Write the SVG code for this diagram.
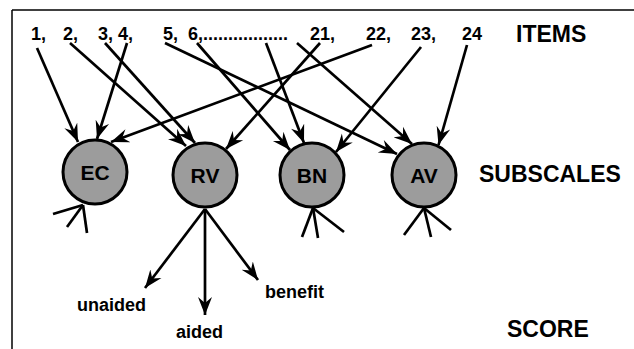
<svg xmlns="http://www.w3.org/2000/svg" width="634" height="349" viewBox="0 0 634 349">
<style>
  text { font-family: "Liberation Sans", Arial, sans-serif; font-weight: bold; fill: #000; }
  .num { font-size: 18px; }
  .cap { font-size: 23px; }
  .node circle { fill: #9c9c9c; stroke: #000; stroke-width: 3; }
  .node text { font-size: 21px; text-anchor: middle; }
  .lbl { font-size: 18px; }
  .conn line { stroke: #000; stroke-width: 2.7; fill: none; }
  .arr { marker-end: url(#ah); }
</style>
<defs>
  <marker id="ah" markerUnits="userSpaceOnUse" markerWidth="20" markerHeight="16" refX="18" refY="7" orient="auto" viewBox="0 0 20 14">
    <path d="M0,0 L18,7 L0,14 L6,7 z" fill="#000"/>
  </marker>
</defs>
<rect x="0" y="0" width="634" height="349" fill="#fff"/>
<g id="frame" stroke="#000" stroke-width="1.5" fill="none">
  <line x1="12" y1="10" x2="12" y2="349"/>
  <line x1="12" y1="10" x2="634" y2="10"/>
</g>
<g id="items">
  <text class="num" x="31" y="40">1,</text>
  <text class="num" x="63" y="40">2,</text>
  <text class="num" x="98" y="40">3, 4,</text>
  <text class="num" x="163" y="40">5,</text>
  <text class="num" x="188" y="40">6,.................</text>
  <text class="num" x="310" y="40">21,</text>
  <text class="num" x="366" y="40">22,</text>
  <text class="num" x="411" y="40">23,</text>
  <text class="num" x="462" y="40">24</text>
  <text class="cap" x="516" y="42">ITEMS</text>
</g>
<g id="connectors" class="conn">
  <line class="arr" x1="37" y1="48" x2="78" y2="142"/>
  <line class="arr" x1="70" y1="43" x2="186" y2="146"/>
  <line class="arr" x1="105" y1="43" x2="195" y2="143"/>
  <line class="arr" x1="127" y1="43" x2="97" y2="139"/>
  <line class="arr" x1="165" y1="43" x2="397" y2="154"/>
  <line class="arr" x1="197" y1="43" x2="290" y2="150"/>
  <line class="arr" x1="266" y1="43" x2="304" y2="143"/>
  <line class="arr" x1="297" y1="43" x2="412" y2="144"/>
  <line class="arr" x1="320" y1="43" x2="226" y2="149"/>
  <line class="arr" x1="372" y1="45" x2="111" y2="142"/>
  <line class="arr" x1="421" y1="47" x2="336" y2="152"/>
  <line class="arr" x1="467" y1="45" x2="438.5" y2="145"/>
  <line class="arr" x1="205" y1="209" x2="145" y2="288"/>
  <line class="arr" x1="205" y1="209" x2="205" y2="315"/>
  <line class="arr" x1="205" y1="209" x2="258" y2="280"/>
  <line x1="83" y1="205" x2="53" y2="214"/>
  <line x1="83" y1="205" x2="67" y2="227"/>
  <line x1="83" y1="205" x2="87" y2="233"/>
  <line x1="313" y1="208" x2="302" y2="237"/>
  <line x1="313" y1="208" x2="318" y2="238"/>
  <line x1="313" y1="208" x2="344" y2="232"/>
  <line x1="424" y1="208" x2="404" y2="235"/>
  <line x1="424" y1="208" x2="431" y2="237"/>
  <line x1="424" y1="208" x2="451" y2="230"/>
</g>
<g id="EC" class="node"><circle cx="95" cy="172" r="32"/><text x="95" y="180">EC</text></g>
<g id="RV" class="node"><circle cx="205" cy="175" r="32"/><text x="205" y="183">RV</text></g>
<g id="BN" class="node"><circle cx="312" cy="175" r="32"/><text x="312" y="183">BN</text></g>
<g id="AV" class="node"><circle cx="424" cy="175" r="32"/><text x="424" y="183">AV</text></g>
<text class="cap" x="479" y="182">SUBSCALES</text>
<text class="lbl" x="77" y="311">unaided</text>
<text class="lbl" x="176" y="338">aided</text>
<text class="lbl" x="265" y="298">benefit</text>
<text class="cap" x="507" y="337">SCORE</text>
</svg>
